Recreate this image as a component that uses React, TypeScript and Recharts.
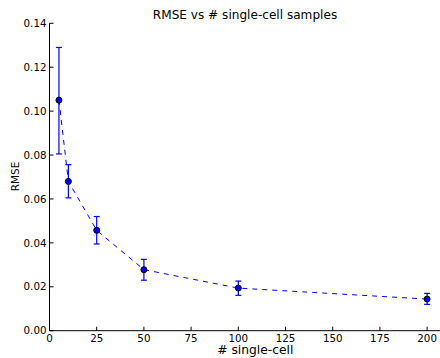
import { LineChart, Line, XAxis, YAxis, ErrorBar } from 'recharts';

const samples = [5, 10, 25, 50, 100, 200];
const rmse = [0.105, 0.068, 0.0457, 0.0278, 0.0194, 0.0144];
const errLow = [0.0245, 0.0075, 0.0062, 0.0048, 0.0033, 0.0024];
const errHigh = [0.024, 0.0076, 0.0063, 0.0047, 0.0032, 0.0026];
const xTicks = [0, 25, 50, 75, 100, 125, 150, 175, 200];
const yTicks = [0, 0.02, 0.04, 0.06, 0.08, 0.1, 0.12, 0.14];

const data = samples.map((n, i) => ({ n, rmse: rmse[i], err: [errLow[i], errHigh[i]] }));

const txt = (size: number) => ({ fontFamily: 'DejaVu Sans', fontSize: size });

function BottomTick({ x, y, payload }: any) {
  return (
    <g>
      <line x1={x} x2={x} y1={y} y2={y - 4} stroke="#000" />
      <text x={x} y={y + 11.5} textAnchor="middle" style={txt(10.3)} fill="#000">
        {payload.value}
      </text>
    </g>
  );
}

function TopTick({ x, y }: any) {
  return <line x1={x} x2={x} y1={y} y2={y + 4} stroke="#000" />;
}

function LeftTick({ x, y, payload }: any) {
  return (
    <g>
      <line x1={x} x2={x + 4} y1={y} y2={y} stroke="#000" />
      <text x={x - 3} y={y + 3.7} textAnchor="end" style={txt(10.3)} fill="#000">
        {Number(payload.value).toFixed(2)}
      </text>
    </g>
  );
}

export default function App() {
  return (
    <div style={{ position: 'absolute', left: 0, top: 0, width: 440, height: 358, overflow: 'hidden', background: '#fff' }}>
      <LineChart width={460} height={358} data={data} margin={{ top: 23.3, right: 14, left: 0, bottom: 0 }}>
        <XAxis
          dataKey="n"
          type="number"
          domain={[0, 210]}
          ticks={xTicks}
          interval={0}
          allowDataOverflow
          height={27.3}
          tickSize={0}
          tickMargin={0}
          tickLine={false}
          axisLine={{ stroke: '#000' }}
          tick={<BottomTick />}
        />
        <XAxis
          xAxisId="top"
          orientation="top"
          dataKey="n"
          type="number"
          domain={[0, 210]}
          ticks={xTicks}
          interval={0}
          allowDataOverflow
          height={0}
          tickSize={0}
          tickMargin={0}
          tickLine={false}
          axisLine={{ stroke: '#000' }}
          tick={<TopTick />}
        />
        <YAxis
          type="number"
          domain={[0, 0.14]}
          ticks={yTicks}
          interval={0}
          allowDataOverflow
          width={49.5}
          tickSize={0}
          tickMargin={0}
          tickLine={false}
          axisLine={{ stroke: '#000' }}
          tick={<LeftTick />}
        />
        <Line
          dataKey="rmse"
          stroke="#0000ff"
          strokeWidth={1}
          strokeDasharray="5 5"
          isAnimationActive={false}
          dot={{ r: 3, fill: '#0000ff', stroke: '#000', strokeWidth: 1, strokeDasharray: 'none' }}
          activeDot={false}
        >
          <ErrorBar dataKey="err" direction="y" width={3} stroke="#0000ff" strokeWidth={1.2} isAnimationActive={false} />
        </Line>
      </LineChart>
      <svg width={440} height={358} style={{ position: 'absolute', left: 0, top: 0, pointerEvents: 'none' }}>
        <text x={245} y={19} textAnchor="middle" style={txt(12.1)} fill="#000">
          RMSE vs # single-cell samples
        </text>
        <text x={255.3} y={353.5} textAnchor="middle" style={txt(12.3)} fill="#000">
          # single-cell
        </text>
        <text
          x={15}
          y={176.5}
          transform="rotate(-90 15 176.5)"
          textAnchor="middle"
          dominantBaseline="central"
          style={txt(10.5)}
          fill="#000"
        >
          RMSE
        </text>
      </svg>
    </div>
  );
}
